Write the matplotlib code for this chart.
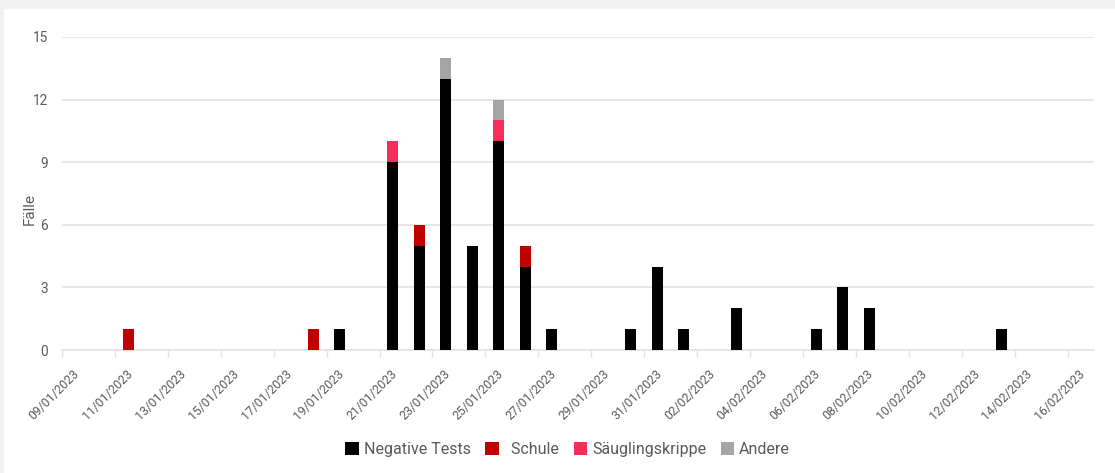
import matplotlib
matplotlib.use("Agg")
import matplotlib.pyplot as plt
import matplotlib.dates as mdates
from matplotlib.patches import Rectangle, Patch
from matplotlib.transforms import ScaledTranslation
import pandas as pd

# Daily case counts by setting
dates = ["11/01/2023", "18/01/2023", "19/01/2023", "21/01/2023", "22/01/2023",
         "23/01/2023", "24/01/2023", "25/01/2023", "26/01/2023", "27/01/2023",
         "30/01/2023", "31/01/2023", "01/02/2023", "03/02/2023", "06/02/2023",
         "07/02/2023", "08/02/2023", "13/02/2023"]
negative_tests = [0, 0, 1, 9, 5, 13, 5, 10, 4, 1, 1, 4, 1, 2, 1, 3, 2, 1]
schule = [1, 1, 0, 0, 1, 0, 0, 0, 1, 0, 0, 0, 0, 0, 0, 0, 0, 0]
saeuglingskrippe = [0, 0, 0, 1, 0, 0, 0, 1, 0, 0, 0, 0, 0, 0, 0, 0, 0, 0]
andere = [0, 0, 0, 0, 0, 1, 0, 1, 0, 0, 0, 0, 0, 0, 0, 0, 0, 0]

series_names = ["Negative Tests", "  Schule", "Säuglingskrippe", "Andere"]
series_colors = ["#000000", "#c00000", "#f52d5a", "#a5a5a5"]

x_start = "09/01/2023"
x_end = "17/02/2023"
y_ticks = [0, 3, 6, 9, 12, 15]

plt.rcParams["font.family"] = ["Roboto", "DejaVu Sans"]
text_grey = "#5a5a5a"
grid_grey = "#e3e3e3"

fig = plt.figure(figsize=(11.15, 4.73), dpi=100, facecolor="#f2f2f2")
# white card behind the chart
fig.patches.append(Rectangle((4 / 1115, 0), 1, 1 - 9 / 473,
                             transform=fig.transFigure, facecolor="white",
                             edgecolor="none", zorder=-10))

ax = fig.add_axes([62 / 1115, 1 - 350 / 473, (1094 - 62) / 1115, (350 - 37) / 473])
ax.set_zorder(1)
ax.set_facecolor("none")

x = pd.to_datetime(dates, format="%d/%m/%Y") + pd.Timedelta(hours=12)
xn = mdates.date2num(x)
bottom = [0] * len(dates)
for vals, name, col in zip([negative_tests, schule, saeuglingskrippe, andere],
                           series_names, series_colors):
    ax.bar(xn, vals, width=0.42, bottom=bottom, color=col, label=name,
           linewidth=0, zorder=3)
    bottom = [b + v for b, v in zip(bottom, vals)]

ax.set_xlim(mdates.date2num(pd.to_datetime(x_start, format="%d/%m/%Y")),
            mdates.date2num(pd.to_datetime(x_end, format="%d/%m/%Y")))
ax.set_ylim(0, 15)
ax.set_yticks(y_ticks)
ax.yaxis.grid(True, color=grid_grey, linewidth=1.2, zorder=0)
ax.set_axisbelow(True)

tick_days = pd.date_range(pd.to_datetime(x_start, format="%d/%m/%Y"),
                          periods=20, freq="2D")
ax.set_xticks(mdates.date2num(tick_days))
ax.set_xticklabels([d.strftime("%d/%m/%Y") for d in tick_days])

for s in ["top", "right", "left"]:
    ax.spines[s].set_visible(False)
ax.spines["bottom"].set_color(grid_grey)
ax.spines["bottom"].set_linewidth(1.2)

ax.tick_params(axis="y", length=0, pad=10, labelsize=9.8, labelcolor=text_grey)
ax.tick_params(axis="x", length=5, width=1, color=grid_grey, pad=4,
               labelsize=8.8, labelcolor=text_grey)
shift = ScaledTranslation(11 / 100, -5 / 100, fig.dpi_scale_trans)
for lbl in ax.get_xticklabels():
    lbl.set_rotation(45)
    lbl.set_ha("right")
    lbl.set_va("top")
    lbl.set_rotation_mode("anchor")
    lbl.set_transform(lbl.get_transform() + shift)

ax.set_ylabel("Fälle", fontsize=11, color=text_grey)
ax.yaxis.set_label_coords(-0.024, 0.45)

handles = [Patch(facecolor=c, edgecolor="none") for c in series_colors]
fig.legend(handles, series_names, loc="center", bbox_to_anchor=(0.509, 0.049),
           ncol=4, frameon=False, fontsize=11.5, labelcolor=text_grey,
           handlelength=0.85, handleheight=0.85, handletextpad=0.3,
           columnspacing=0.9)

fig.savefig("out.png", dpi=100, facecolor=fig.get_facecolor())
